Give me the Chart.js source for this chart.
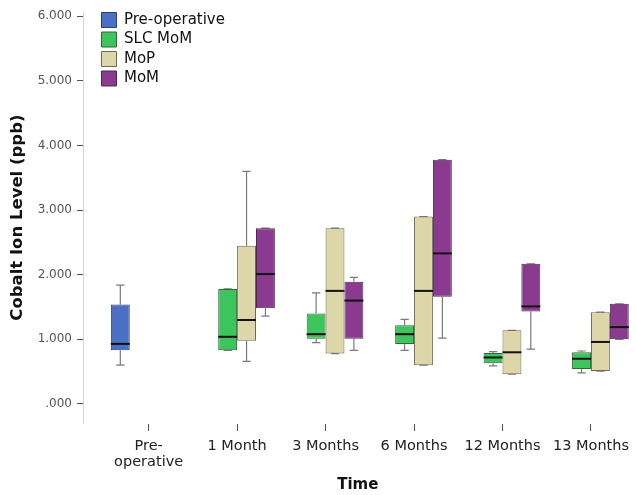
<!DOCTYPE html>
<html>
<head>
<meta charset="utf-8">
<script src="https://cdn.jsdelivr.net/npm/chart.js@4.4.1/dist/chart.umd.min.js"></script>
<style>
  body { margin: 0; background: #fff; }
  canvas { display: block; }
</style>
</head>
<body>
<canvas id="box_chart" width="636" height="495"></canvas>
<script>
// Categories / tick labels
const categories = ["Pre-operative", "1 Month", "3 Months", "6 Months", "12 Months", "13 Months"];
const tickLabels = [["Pre-", "operative"], "1 Month", "3 Months", "6 Months", "12 Months", "13 Months"];

// Box stats (ppb), one entry per category
const preopLow  = [0.60, null, null, null, null, null];
const preopQ1   = [0.83, null, null, null, null, null];
const preopMed  = [0.93, null, null, null, null, null];
const preopQ3   = [1.54, null, null, null, null, null];
const preopHigh = [1.84, null, null, null, null, null];

const slcLow  = [null, 0.83, 0.95, 0.83, 0.59, 0.48];
const slcQ1   = [null, 0.83, 1.01, 0.93, 0.63, 0.54];
const slcMed  = [null, 1.04, 1.08, 1.08, 0.72, 0.70];
const slcQ3   = [null, 1.78, 1.40, 1.22, 0.79, 0.80];
const slcHigh = [null, 1.78, 1.72, 1.31, 0.81, 0.82];

const mopLow  = [null, 0.66, 0.78, 0.60, 0.46, 0.51];
const mopQ1   = [null, 0.98, 0.78, 0.60, 0.46, 0.51];
const mopMed  = [null, 1.30, 1.75, 1.75, 0.80, 0.96];
const mopQ3   = [null, 2.45, 2.72, 2.90, 1.14, 1.42];
const mopHigh = [null, 3.60, 2.72, 2.90, 1.14, 1.42];

const momLow  = [null, 1.36, 0.83, 1.02, 0.85, 1.00];
const momQ1   = [null, 1.48, 1.01, 1.66, 1.43, 1.00];
const momMed  = [null, 2.01, 1.60, 2.33, 1.51, 1.19];
const momQ3   = [null, 2.72, 1.89, 3.78, 2.17, 1.55];
const momHigh = [null, 2.72, 1.96, 3.78, 2.17, 1.55];

// build floating bar entries (box = q1..q3), keep whisker/median on the entry
function boxData(low, q1, med, q3, high) {
  let out = [];
  categories.forEach((c, i) => {
    if (q1[i] === null) return;
    out.push({ x: i, y: [q1[i], q3[i]], low: low[i], med: med[i], high: high[i] });
  });
  return out;
}

const datasets = [
  { label: "Pre-operative", data: boxData(preopLow, preopQ1, preopMed, preopQ3, preopHigh), backgroundColor: "#4a6fc4", borderColor: "#2f3f66" },
  { label: "SLC MoM", data: boxData(slcLow, slcQ1, slcMed, slcQ3, slcHigh), backgroundColor: "#3ec45c", borderColor: "#2c6a3a" },
  { label: "MoP", data: boxData(mopLow, mopQ1, mopMed, mopQ3, mopHigh), backgroundColor: "#ddd6a8", borderColor: "#6e6a55" },
  { label: "MoM", data: boxData(momLow, momQ1, momMed, momQ3, momHigh), backgroundColor: "#8b3b8f", borderColor: "#4a2a4c" }
];
datasets.forEach(ds => {
  ds.borderWidth = 1;
  ds.borderSkipped = false;
  ds.categoryPercentage = 0.854;
  ds.barPercentage = 1.0;
});

// whiskers go under the boxes, medians on top
const whiskerPlugin = {
  id: "whiskers",
  beforeDatasetsDraw(chart) {
    const ctx = chart.ctx, y = chart.scales.y;
    ctx.save();
    ctx.strokeStyle = "#7a7a7a";
    ctx.lineWidth = 1.2;
    chart.data.datasets.forEach((ds, d) => {
      chart.getDatasetMeta(d).data.forEach((el, j) => {
        const item = ds.data[j];
        const cx = el.x, cap = el.width * 0.22;
        ctx.beginPath();
        ctx.moveTo(cx, y.getPixelForValue(item.high));
        ctx.lineTo(cx, y.getPixelForValue(item.y[1]));
        ctx.moveTo(cx, y.getPixelForValue(item.y[0]));
        ctx.lineTo(cx, y.getPixelForValue(item.low));
        ctx.moveTo(cx - cap, y.getPixelForValue(item.high));
        ctx.lineTo(cx + cap, y.getPixelForValue(item.high));
        ctx.moveTo(cx - cap, y.getPixelForValue(item.low));
        ctx.lineTo(cx + cap, y.getPixelForValue(item.low));
        ctx.stroke();
      });
    });
    ctx.restore();
  },
  afterDatasetsDraw(chart) {
    const ctx = chart.ctx, y = chart.scales.y;
    ctx.save();
    ctx.strokeStyle = "#111";
    ctx.lineWidth = 2;
    chart.data.datasets.forEach((ds, d) => {
      chart.getDatasetMeta(d).data.forEach((el, j) => {
        const py = y.getPixelForValue(ds.data[j].med);
        ctx.beginPath();
        ctx.moveTo(el.x - el.width / 2, py);
        ctx.lineTo(el.x + el.width / 2, py);
        ctx.stroke();
      });
    });
    ctx.restore();
  },
  // nudge the legend inside the plot like the original
  afterLayout(chart) {
    if (chart.legend) {
      chart.legend.left += 14;
      chart.legend.top += 8;
    }
  }
};

const ctx = document.getElementById("box_chart").getContext("2d");
const FONT = "'DejaVu Sans', Verdana, sans-serif";

new Chart(ctx, {
  type: "bar",
  data: { datasets: datasets },
  options: {
    responsive: false,
    animation: false,
    layout: { padding: { left: 0, right: 0, top: 8, bottom: 0 } },
    scales: {
      x: {
        type: "linear",
        offset: false,
        min: -0.742,
        max: 5.47,
        afterFit: (s) => { s.height = 72; },
        ticks: {
          stepSize: 1,
          includeBounds: false,
          autoSkip: false,
          maxRotation: 0,
          padding: 7,
          color: "#222",
          font: { family: FONT, size: 14.5, lineHeight: 1.1 },
          callback: (v) => Number.isInteger(v) ? tickLabels[v] : ""
        },
        grid: { display: true, offset: false, drawOnChartArea: false, drawTicks: true, tickLength: 8, tickWidth: 1, tickColor: "#555" },
        border: { display: true, color: "rgba(0,0,0,0)" },
        title: {
          display: true,
          text: "Time",
          color: "#111",
          font: { family: FONT, size: 15, weight: "bold" },
          padding: { top: 1, bottom: 1 }
        }
      },
      y: {
        min: -0.294,
        max: 6.062,
        afterFit: (s) => { s.width = 83; },
        ticks: {
          stepSize: 1,
          includeBounds: false,
          padding: 5,
          color: "#555",
          font: { family: FONT, size: 12 },
          callback: (v) => v === 0 ? ".000" : v.toFixed(3)
        },
        grid: { drawOnChartArea: false, tickLength: 6, tickColor: "#555" },
        border: { color: "#d4d4d4" },
        title: {
          display: true,
          text: "Cobalt Ion Level (ppb)",
          color: "#111",
          font: { family: FONT, size: 16.5, weight: "bold" },
          padding: { top: 8, bottom: 0 }
        }
      }
    },
    plugins: {
      legend: {
        position: "chartArea",
        align: "start",
        labels: {
          boxWidth: 15,
          boxHeight: 15,
          padding: 4.5,
          color: "#111",
          font: { family: FONT, size: 15 }
        }
      },
      tooltip: { enabled: false }
    }
  },
  plugins: [whiskerPlugin]
});
</script>
</body>
</html>
